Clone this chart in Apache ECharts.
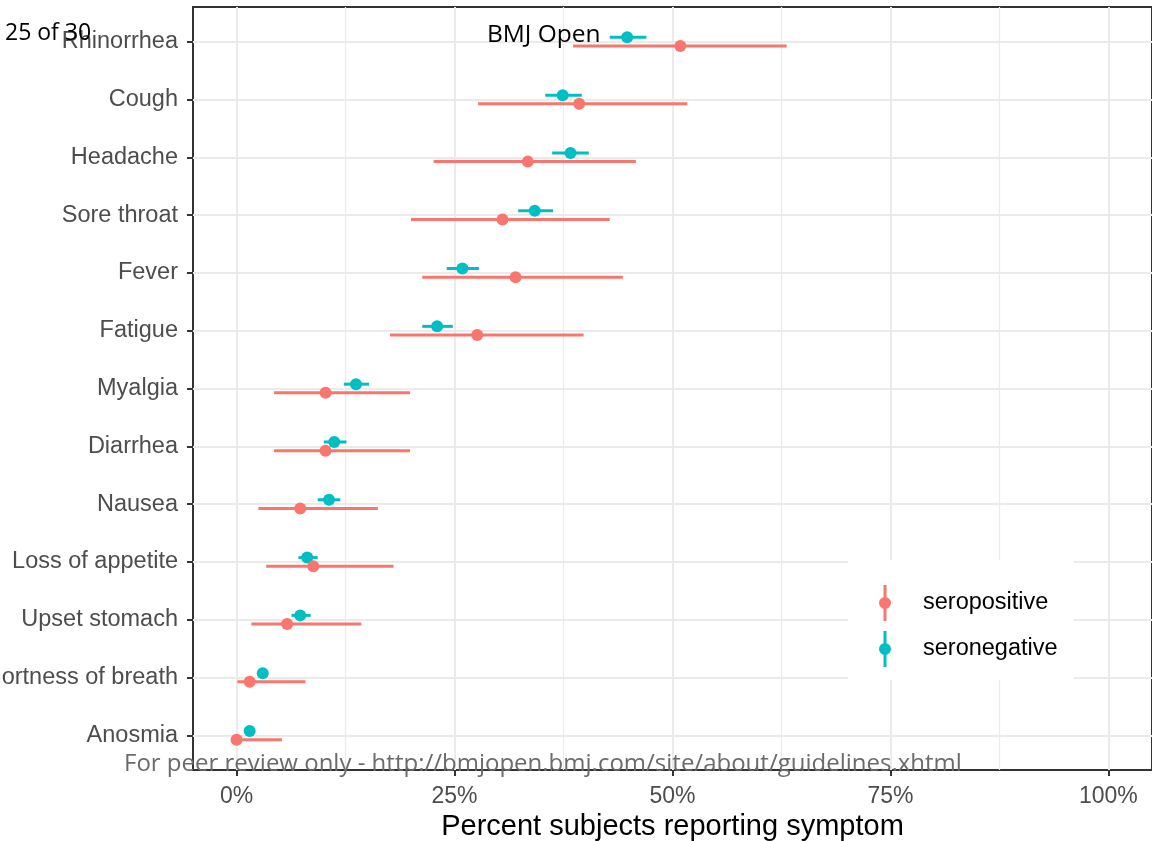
<!DOCTYPE html>
<html>
<head>
<meta charset="utf-8">
<title>Symptoms by serostatus</title>
<script src="https://cdn.jsdelivr.net/npm/echarts@6/dist/echarts.min.js"></script>
<style>
  html, body { margin: 0; padding: 0; background: #fff; }
  #chart { width: 1152px; height: 841px; }
</style>
</head>
<body>
<div id="chart"></div>
<script>
// 症状（从上到下）
const categories = [
  'Rhinorrhea', 'Cough', 'Headache', 'Sore throat', 'Fever', 'Fatigue', 'Myalgia',
  'Diarrhea', 'Nausea', 'Loss of appetite', 'Upset stomach', 'Shortness of breath', 'Anosmia'
];

// seropositive：估计值与区间（%）
const posEst  = [50.9, 39.3, 33.4, 30.5, 32.0, 27.6, 10.2, 10.2, 7.3, 8.8, 5.8, 1.5, 0.0];
const posLow  = [38.6, 27.7, 22.6, 20.0, 21.3, 17.6, 4.3, 4.3, 2.5, 3.4, 1.7, 0.1, 0.0];
const posHigh = [63.1, 51.7, 45.8, 42.8, 44.3, 39.8, 19.9, 19.9, 16.2, 18.0, 14.3, 7.9, 5.2];

// seronegative：估计值与区间（%）
const negEst  = [44.8, 37.4, 38.3, 34.2, 25.9, 23.0, 13.7, 11.2, 10.6, 8.1, 7.3, 3.0, 1.5];
const negLow  = [42.8, 35.4, 36.2, 32.3, 24.1, 21.3, 12.3, 10.0, 9.3, 7.1, 6.3, 2.6, 1.2];
const negHigh = [47.0, 39.6, 40.4, 36.3, 27.8, 24.8, 15.2, 12.6, 11.9, 9.3, 8.5, 3.5, 1.8];

// 刻度
const xTicks = [0, 25, 50, 75, 100];
const xMinorTicks = [12.5, 37.5, 62.5, 87.5];
const yTicks = categories.map((c, i) => i);

const COLORS = { pos: '#F8766D', neg: '#00BFC4' };
const FONT = '"Liberation Sans", Arial, sans-serif';
// 竖线 + 实心圆（同向绕行，避免镂空）
const LEGEND_ICON = 'path://M4.5 0h3v36h-3z M0 18a6 6 0 1 1 12 0a6 6 0 1 1 -12 0z';

// 组装 [low, high, est, index]
function buildRows(low, high, est) {
  return categories.map((c, i) => [low[i], high[i], est[i], i]);
}

// 点 + 区间线，dodge 偏移
function makeRenderer(offset) {
  return function (params, api) {
    const y = api.value(3) + offset;
    const p0 = api.coord([api.value(0), y]);
    const p1 = api.coord([api.value(1), y]);
    const pc = api.coord([api.value(2), y]);
    const color = api.visual('color');
    return {
      type: 'group',
      children: [
        { type: 'line', shape: { x1: p0[0], y1: p0[1], x2: p1[0], y2: p1[1] }, style: { stroke: color, lineWidth: 3 } },
        { type: 'circle', shape: { cx: pc[0], cy: pc[1], r: 6 }, style: { fill: color } }
      ]
    };
  };
}

const chart = echarts.init(document.getElementById('chart'));

chart.setOption({
  animation: false,
  textStyle: { fontFamily: FONT },
  grid: {
    left: 193, right: 0, top: 7, bottom: 71,
    containLabel: false, outerBoundsMode: 'none',
    show: true, borderColor: '#333333', borderWidth: 2, backgroundColor: '#fff'
  },
  xAxis: [
    {
      type: 'value', min: -5, max: 105,
      name: 'Percent subjects reporting symptom',
      nameLocation: 'middle', nameGap: 39,
      nameTextStyle: { fontSize: 29, color: '#000', fontFamily: FONT },
      axisLine: { show: false, onZero: false },
      axisTick: { show: true, customValues: xTicks, length: 6, lineStyle: { color: '#333', width: 2 } },
      axisLabel: {
        customValues: xTicks, margin: 15, fontSize: 23, color: '#4d4d4d',
        formatter: v => v + '%'
      },
      splitLine: { show: true, lineStyle: { color: '#ebebeb', width: 2 } }
    },
    {
      // 次网格线
      type: 'value', min: -5, max: 105, gridIndex: 0, position: 'bottom',
      axisLine: { show: false, onZero: false },
      axisTick: { show: false, customValues: xMinorTicks },
      axisLabel: { show: false, customValues: xMinorTicks },
      splitLine: { show: true, lineStyle: { color: '#ebebeb', width: 1.2 } }
    }
  ],
  yAxis: {
    type: 'value', inverse: true, min: -0.6, max: 12.6,
    axisLine: { show: false, onZero: false },
    axisTick: { show: true, customValues: yTicks, length: 6, lineStyle: { color: '#333', width: 2 } },
    axisLabel: {
      customValues: yTicks, margin: 15, fontSize: 23.5, color: '#4d4d4d',
      padding: [4, 0, 0, 0],
      formatter: v => categories[Math.round(v)] || ''
    },
    splitLine: { show: true, lineStyle: { color: '#ebebeb', width: 2 } }
  },
  legend: {
    orient: 'vertical', left: 848, top: 560,
    backgroundColor: '#fff', padding: [25, 16, 13, 31],
    itemWidth: 12, itemHeight: 36, itemGap: 10,
    data: [
      { name: 'seropositive', icon: LEGEND_ICON },
      { name: 'seronegative', icon: LEGEND_ICON }
    ],
    textStyle: { fontSize: 23.5, color: '#000', fontFamily: FONT, padding: [0, 0, 0, 27] }
  },
  series: [
    {
      name: 'seronegative', type: 'custom', color: COLORS.neg, clip: true,
      renderItem: makeRenderer(-0.075),
      encode: { x: [0, 1, 2], y: 3 },
      data: buildRows(negLow, negHigh, negEst)
    },
    {
      name: 'seropositive', type: 'custom', color: COLORS.pos, clip: true,
      renderItem: makeRenderer(0.075),
      encode: { x: [0, 1, 2], y: 3 },
      data: buildRows(posLow, posHigh, posEst)
    }
  ],
  // 页面叠加文字
  graphic: [
    {
      type: 'text', left: 5, top: 22, z: 100,
      style: { text: '25 of 30', fontSize: 23, fill: '#000', fontFamily: '"Open Sans", sans-serif' }
    },
    {
      type: 'text', left: 487, top: 23, z: 100,
      style: { text: 'BMJ Open', fontSize: 24.5, fill: '#000', fontFamily: '"Open Sans", sans-serif' }
    },
    {
      type: 'text', left: 124, top: 752, z: 100,
      style: {
        text: 'For peer review only - http://bmjopen.bmj.com/site/about/guidelines.xhtml',
        fontSize: 24, fill: '#6b6b6b', fontFamily: '"Open Sans", sans-serif'
      }
    }
  ]
});
</script>
</body>
</html>
